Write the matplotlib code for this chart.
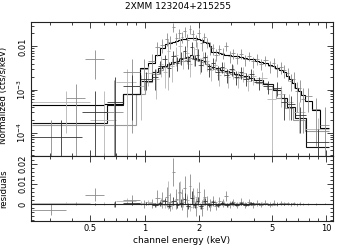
import numpy as np
import matplotlib
matplotlib.use('Agg')
import matplotlib.pyplot as plt
from matplotlib.ticker import FixedLocator, FixedFormatter, NullFormatter

title = "2XMM 123204+215255"

# pn
pn_edges = [0.24, 0.37, 0.47, 0.60, 0.76, 0.94, 1.05, 1.14, 1.21, 1.29, 1.35, 1.41, 1.47, 1.52,
            1.58, 1.63, 1.69, 1.75, 1.81, 1.88, 1.95, 2.02, 2.10, 2.17, 2.25, 2.33, 2.42, 2.52,
            2.63, 2.75, 2.87, 3.0, 3.15, 3.3, 3.47, 3.65, 3.85, 4.05, 4.27, 4.5, 4.75, 5.0,
            5.25, 5.5, 5.75, 6.0, 6.25, 6.5, 6.75, 7.0, 7.3, 7.6, 8.3, 9.2, 10.4]
pn_model = [4.4e-4, 4.4e-4, 4.4e-4, 4.6e-4, 7.9e-4, 3.2e-3, 4.1e-3, 6.3e-3, 9.2e-3, 0.0114,
            0.0122, 0.0130, 0.0137, 0.0143, 0.0148, 0.0153, 0.0157, 0.0160, 0.0160, 0.0156,
            0.0150, 0.0140, 0.0130, 0.0118, 0.0100, 0.0076, 0.0073, 0.0070, 0.0067, 0.0065,
            0.0063, 0.0061, 0.0059, 0.0057, 0.0055, 0.0052, 0.0050, 0.0047, 0.0044, 0.0041,
            0.0038, 0.0035, 0.0032, 0.0029, 0.0025, 0.0021, 0.0018, 0.0014, 0.0011, 9.0e-4,
            7.5e-4, 5.5e-4, 3.3e-4, 1.3e-4]
pn_rate = [-0.0025, 6.5e-4, 5.0e-3, 3e-4, 2.6e-3, 3.0e-3, 4.5e-3, 0.0095, 0.0110, 0.0150,
           0.0130, 0.0290, 0.0160, 0.0200, 0.0170, 0.0230, 0.0145, 0.0250, 0.0190, 0.0140,
           0.0210, 0.0120, 0.0165, 0.0125, 0.0095, 0.0090, 0.0065, 0.0085, 0.0070, 0.0105,
           0.0060, 0.0070, 0.0055, 0.0068, 0.0050, 0.0060, 0.0045, 0.0052, 0.0040, 0.0048,
           0.0035, 0.0042, 0.0030, 0.0033, 0.0028, 0.0024, 0.0016, 0.0018, 0.0009, 0.0011,
           6e-4, 7e-4, 3.5e-4, 1.5e-4]
pn_err = [0.0027, 7e-4, 3.2e-3, 1.4e-3, 2.5e-3, 2.0e-3, 2.2e-3, 3.5e-3, 4e-3, 5e-3,
          4.5e-3, 7e-3, 5e-3, 5e-3, 5e-3, 6e-3, 5e-3, 6e-3, 5e-3, 4.5e-3,
          5e-3, 4e-3, 4e-3, 3.5e-3, 3e-3, 2.5e-3, 2e-3, 2.2e-3, 2e-3, 2.5e-3,
          1.8e-3, 1.8e-3, 1.6e-3, 1.7e-3, 1.5e-3, 1.5e-3, 1.3e-3, 1.4e-3, 1.2e-3, 1.2e-3,
          1.1e-3, 1.1e-3, 1.0e-3, 1.0e-3, 9e-4, 8e-4, 7e-4, 7e-4, 6e-4, 6e-4,
          5e-4, 4e-4, 3e-4, 2.5e-4]

# MOS1
m1_edges = [0.24, 0.45, 0.62, 0.76, 0.94, 1.1, 1.18, 1.25, 1.33, 1.4, 1.48, 1.55, 1.63, 1.7,
            1.78, 1.85, 1.93, 2.0, 2.1, 2.2, 2.32, 2.45, 2.6, 2.75, 2.92, 3.1, 3.3, 3.5, 3.75,
            4.0, 4.5, 5.1, 5.6, 6.1, 6.7, 7.7, 10.4]
m1_model = [1.7e-4, 1.7e-4, 4.4e-4, 7.9e-4, 1.6e-3, 2.6e-3, 3.1e-3, 3.6e-3, 4.0e-3, 4.4e-3,
            4.7e-3, 5.0e-3, 5.3e-3, 5.6e-3, 6.3e-3, 5.5e-3, 5.2e-3, 4.9e-3, 4.5e-3, 3.5e-3,
            3.3e-3, 3.1e-3, 2.9e-3, 2.7e-3, 2.5e-3, 2.35e-3, 2.2e-3, 2.05e-3, 1.9e-3, 1.7e-3,
            1.35e-3, 9.5e-4, 6.5e-4, 4.0e-4, 2.2e-4, 4.6e-5]
m1_rate = [8e-5, 3e-4, 5e-4, 1.2e-3, 1.8e-3, 2.0e-3, 3.5e-3, 5.0e-3, 3.2e-3, 6.0e-3,
           4.2e-3, 5.5e-3, 8.0e-3, 4.5e-3, 9.5e-3, 5.0e-3, 6.5e-3, 3.8e-3, 5.8e-3, 3.0e-3,
           4.2e-3, 2.6e-3, 3.4e-3, 2.2e-3, 3.0e-3, 2.0e-3, 2.6e-3, 1.8e-3, 2.3e-3, 1.5e-3,
           1.2e-3, 1.1e-3, 5e-4, 4.5e-4, 2.5e-4, 6e-5]
m1_err = [1.2e-4, 6e-4, 1.5e-3, 1.0e-3, 8e-4, 1e-3, 1.2e-3, 1.5e-3, 1.2e-3, 2e-3,
          1.5e-3, 1.8e-3, 2.5e-3, 1.5e-3, 3e-3, 1.5e-3, 2e-3, 1.2e-3, 1.8e-3, 1e-3,
          1.2e-3, 9e-4, 1e-3, 8e-4, 9e-4, 7e-4, 8e-4, 6e-4, 7e-4, 5e-4,
          4e-4, 4e-4, 3e-4, 2.5e-4, 1.5e-4, 6e-5]

# MOS2
m2_edges = [0.24, 0.50, 0.70, 0.90, 1.0, 1.1, 1.2, 1.26, 1.32, 1.38, 1.45, 1.52, 1.6, 1.67,
            1.75, 1.82, 1.9, 1.97, 2.05, 2.15, 2.25, 2.37, 2.5, 2.65, 2.8, 2.97, 3.15, 3.37,
            3.6, 3.85, 4.1, 4.7, 5.3, 5.9, 6.6, 7.6, 10.4]
m2_model = [1.5e-4, 1.5e-4, 1.5e-4, 8e-4, 1.5e-3, 2.3e-3, 2.9e-3, 3.3e-3, 3.7e-3, 4.0e-3,
            4.3e-3, 4.5e-3, 4.7e-3, 4.9e-3, 5.4e-3, 5.1e-3, 4.8e-3, 4.6e-3, 4.3e-3, 4.0e-3,
            3.2e-3, 3.0e-3, 2.8e-3, 2.6e-3, 2.45e-3, 2.3e-3, 2.15e-3, 2.0e-3, 1.85e-3, 1.7e-3,
            1.45e-3, 1.05e-3, 6.5e-4, 3.8e-4, 2.0e-4, 1.1e-4]
m2_rate = [5e-4, 2e-4, 1.5e-3, 1.2e-3, 2.4e-3, 1.8e-3, 4.0e-3, 2.6e-3, 0.0080, 3.5e-3,
           6.5e-3, 0.0100, 5.5e-3, 7.0e-3, 4.0e-3, 6.5e-3, 8.5e-3, 3.8e-3, 5.5e-3, 4.5e-3,
           2.8e-3, 3.8e-3, 2.2e-3, 3.2e-3, 2.0e-3, 2.8e-3, 1.9e-3, 2.4e-3, 1.6e-3, 2.1e-3,
           1.9e-3, 6e-4, 8e-4, 5e-4, 3e-4, 1.2e-4]
m2_err = [4e-4, 7e-4, 1.5e-3, 1.0e-3, 1.2e-3, 1.2e-3, 2e-3, 1.5e-3, 7e-3, 2e-3,
          3e-3, 6e-3, 2.5e-3, 3e-3, 2e-3, 3e-3, 4e-3, 1.5e-3, 2e-3, 1.8e-3,
          1.2e-3, 1.3e-3, 1e-3, 1.1e-3, 9e-4, 1e-3, 8e-4, 9e-4, 7e-4, 8e-4,
          6e-4, 6e-4, 4e-4, 3e-4, 2e-4, 1e-4]

xticks = [0.5, 1, 2, 5, 10]
xticklabels = ["0.5", "1", "2", "5", "10"]

datasets = [
    (m2_edges, m2_rate, m2_err, m2_model, '#b4b4b4', '#9a9a9a'),
    (pn_edges, pn_rate, pn_err, pn_model, '#8a8a8a', '#000000'),
    (m1_edges, m1_rate, m1_err, m1_model, '#333333', '#111111'),
]

plt.rcParams['font.family'] = 'DejaVu Sans'
fig = plt.figure(figsize=(3.56, 2.48), dpi=100)
L, W = 0.0862, 0.8494
ax1 = fig.add_axes([L, 0.3722, W, 0.5391])
ax2 = fig.add_axes([L, 0.1089, W, 0.2633], sharex=ax1)

lw = 0.6
for edges, rate, err, model, dc, mc in datasets:
    e = np.array(edges)
    lo, hi = e[:-1], e[1:]
    xc = 0.5 * (lo + hi)
    r = np.array(rate)
    er = np.array(err)
    m = np.array(model)
    ax1.errorbar(xc, r, xerr=[xc - lo, hi - xc], yerr=er, fmt='none',
                 ecolor=dc, elinewidth=lw, capsize=0)
    ax1.stairs(m, e, baseline=None, color=mc, lw=0.8)
    ax2.errorbar(xc, r - m, xerr=[xc - lo, hi - xc], yerr=er, fmt='none',
                 ecolor=dc, elinewidth=lw, capsize=0)

ax2.axhline(0, color='#222222', lw=0.8)

ax1.set_xscale('log')
ax1.set_yscale('log', nonpositive='clip')
ax1.set_xlim(0.236, 10.9)
ax1.set_ylim(2.9e-5, 0.037)
ax2.set_ylim(-0.0084, 0.0239)

for ax in (ax1, ax2):
    ax.xaxis.set_major_locator(FixedLocator(xticks))
    ax.xaxis.set_minor_locator(FixedLocator([0.3, 0.4, 0.6, 0.7, 0.8, 0.9, 3, 4, 6, 7, 8, 9]))
    ax.tick_params(which='both', direction='in', top=True, right=True, width=0.6,
                   labelsize=6, pad=2, color='#222222')
    ax.tick_params(which='major', length=4.5)
    ax.tick_params(which='minor', length=2.2)
    for s in ax.spines.values():
        s.set_linewidth(0.8)
        s.set_color('#222222')

ax1.xaxis.set_major_formatter(NullFormatter())
ax1.xaxis.set_minor_formatter(NullFormatter())
ax2.xaxis.set_major_formatter(FixedFormatter(xticklabels))
ax2.xaxis.set_minor_formatter(NullFormatter())

ax1.yaxis.set_major_locator(FixedLocator([1e-4, 1e-3, 1e-2]))
ax1.yaxis.set_major_formatter(FixedFormatter(["10$^{-4}$", "10$^{-3}$", "0.01"]))
minors = [k * 10.0 ** p for p in (-5, -4, -3, -2) for k in range(2, 10)]
ax1.yaxis.set_minor_locator(FixedLocator(minors))
ax1.yaxis.set_minor_formatter(NullFormatter())

ax2.yaxis.set_major_locator(FixedLocator([0, 0.01, 0.02]))
ax2.yaxis.set_major_formatter(FixedFormatter(["0", "0.01", "0.02"]))
ax2.yaxis.set_minor_locator(FixedLocator(np.arange(-0.008, 0.0241, 0.002)))

for ax in (ax1, ax2):
    for lab in ax.get_yticklabels():
        lab.set_rotation(90)
        lab.set_va('center')

ax1.set_ylabel("Normalized (cts/s/keV)", fontsize=6.2)
ax2.set_ylabel("residuals", fontsize=6.2)
ax2.set_xlabel("channel energy (keV)", fontsize=6.5, labelpad=2)
fig.text(0.5, 0.972, title, ha='center', va='center', fontsize=6.5)
ax1.yaxis.set_label_coords(-0.075, 0.45)
ax2.yaxis.set_label_coords(-0.075, 0.5)

fig.savefig('out.png', dpi=100)
